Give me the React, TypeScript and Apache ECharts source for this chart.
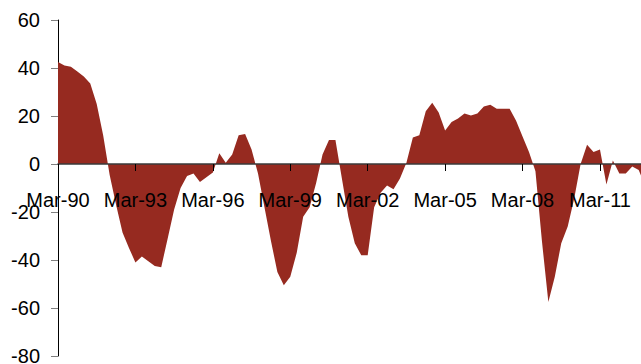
import React, { useEffect, useRef } from "react";
import * as echarts from "echarts";

// Quarterly periods, Mar-90 through Sep-12
const months = ["Mar", "Jun", "Sep", "Dec"];
const quarters: string[] = [];
for (let y = 1990; y <= 2012; y++) {
  for (const m of months) {
    quarters.push(`${m}-${String(y % 100).padStart(2, "0")}`);
  }
}

// Balance readings per quarter
const balance: number[] = [
  42.5, 41, 40.5, 38.5, 36.5, 33.5, 25, 12, -4.5, -17,
  -28.5, -35, -41, -38.5, -40.5, -42.5, -43, -31, -19, -10,
  -5, -4, -7.5, -5.5, -3.5, 4.5, 0.5, 4, 12, 12.5,
  6, -4, -18, -32, -45, -50.5, -47, -37, -22, -18,
  -8, 4, 10, 10, -6, -22, -33, -38, -38, -18,
  -12, -9, -10.5, -6, 0.5, 11, 12, 22, 25.5, 21.5,
  14, 17.5, 19, 21, 20.2, 21, 24, 24.7, 23, 23,
  23, 18, 11.5, 5, -3, -32, -57.5, -47, -33, -26,
  -14.5, 0, 8, 5, 6, -8.5, 1.5, -4, -4, -1,
  -2.5, -9,
];

const categories = quarters.slice(0, balance.length);

// Value axis bounds
const yMin = -80;
const yMax = 60;
const yStep = 20;

export default function App() {
  const ref = useRef<HTMLDivElement>(null);

  useEffect(() => {
    if (!ref.current) return;
    const chart = echarts.init(ref.current, undefined, { renderer: "svg" });
    const font = "Liberation Sans";
    const step = 6.452;
    const plotTop = 20;
    const plotHeight = 336;
    // distance from the plot's bottom edge up to the zero line
    const zeroLift = (plotHeight * (0 - yMin)) / (yMax - yMin);
    chart.setOption({
      animation: false,
      backgroundColor: "#ffffff",
      grid: {
        left: 58,
        top: plotTop,
        height: plotHeight,
        width: step * (categories.length - 1),
        containLabel: false,
        outerBoundsMode: "none",
      },
      xAxis: {
        type: "category",
        data: categories,
        boundaryGap: false,
        offset: -zeroLift,
        axisLine: { onZero: false, lineStyle: { color: "#3a3a3a", width: 1.5 } },
        axisTick: {
          show: true,
          interval: 11,
          length: 7,
          lineStyle: { color: "#000000", width: 1 },
        },
        axisLabel: {
          interval: 11,
          margin: 26,
          color: "#000000",
          fontFamily: font,
          fontSize: 20,
          showMinLabel: true,
        },
        splitLine: { show: false },
        z: 3,
      },
      yAxis: {
        type: "value",
        min: yMin,
        max: yMax,
        interval: yStep,
        axisLine: { show: true, onZero: false, lineStyle: { color: "#000000", width: 1 } },
        axisTick: { show: true, length: 7, lineStyle: { color: "#808080", width: 1 } },
        axisLabel: {
          margin: 18,
          color: "#000000",
          fontFamily: font,
          fontSize: 20,
        },
        splitLine: { show: false },
      },
      series: [
        {
          type: "line",
          data: balance,
          symbol: "none",
          lineStyle: { width: 0, color: "#962a20" },
          areaStyle: { color: "#962a20", opacity: 1 },
          z: 1,
        },
      ],
    });
    return () => chart.dispose();
  }, []);

  return (
    <div
      ref={ref}
      style={{ position: "fixed", left: 0, top: 0, width: 641, height: 364 }}
    />
  );
}
